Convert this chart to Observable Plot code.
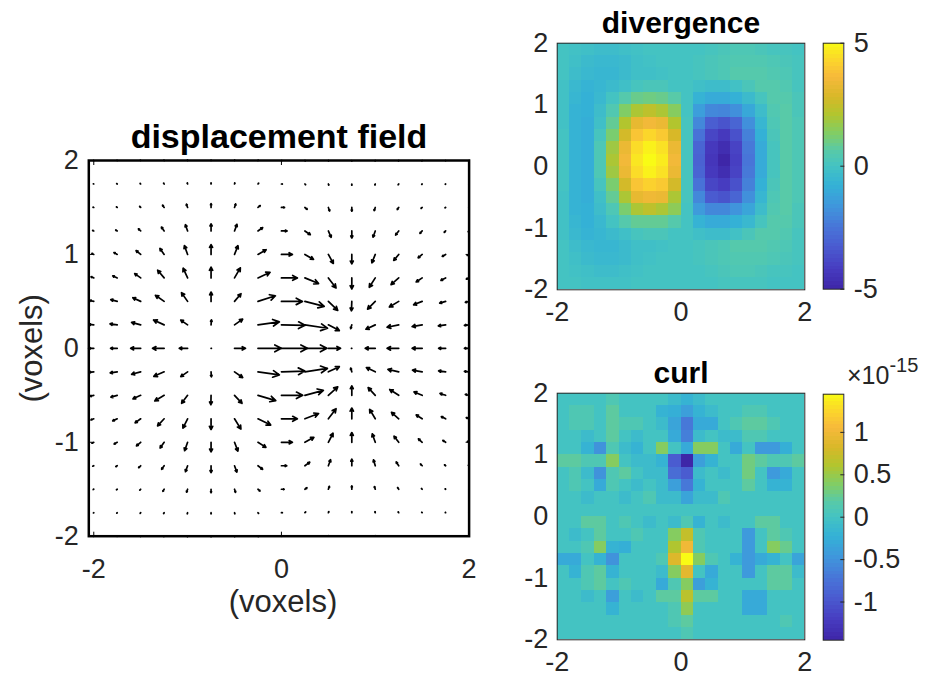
<!DOCTYPE html>
<html><head><meta charset="utf-8">
<script src="https://cdn.jsdelivr.net/npm/d3@7"></script>
<script src="https://cdn.jsdelivr.net/npm/@observablehq/plot@0.6"></script>
<style>
body{margin:0;background:#fff;}
#root{position:relative;width:930px;height:678px;overflow:hidden;background:#fff;font-family:"Liberation Sans",Arial,Helvetica,sans-serif;color:#262626;}
#root svg{position:absolute;overflow:visible;}
.exp{position:absolute;white-space:nowrap;line-height:26px;font-size:25px;color:#262626;}
</style></head><body><div id="root"></div>
<script>
// ---------- quiver (displacement field) ----------
const gridX = [-2,-1.75,-1.5,-1.25,-1,-0.75,-0.5,-0.25,0,0.25,0.5,0.75,1,1.25,1.5,1.75,2];
const gridY = [2,1.75,1.5,1.25,1,0.75,0.5,0.25,0,-0.25,-0.5,-0.75,-1,-1.25,-1.5,-1.75,-2];
const U = [
 [-0.003,-0.003,-0.003,-0.003,-0.002,0,0.002,0.003,0.005,0.004,0.002,0,-0.002,-0.003,-0.003,-0.002,-0.002],
 [-0.005,-0.006,-0.006,-0.006,-0.004,0,0.004,0.007,0.01,0.008,0.005,0,-0.004,-0.006,-0.005,-0.004,-0.003],
 [-0.008,-0.009,-0.011,-0.017,-0.013,0,0.013,0.024,0.033,0.025,0.014,0,-0.012,-0.016,-0.012,-0.007,-0.004],
 [-0.012,-0.016,-0.024,-0.029,-0.024,0,0.026,0.05,0.06,0.058,0.03,0,-0.024,-0.033,-0.024,-0.015,-0.01],
 [-0.02,-0.035,-0.049,-0.045,-0.034,0,0.037,0.087,0.117,0.092,0.053,0,-0.036,-0.053,-0.043,-0.036,-0.02],
 [-0.03,-0.048,-0.064,-0.069,-0.048,0,0.062,0.129,0.17,0.146,0.082,0,-0.064,-0.082,-0.064,-0.05,-0.03],
 [-0.04,-0.069,-0.084,-0.093,-0.065,0,0.069,0.186,0.224,0.206,0.1,-0.004,-0.082,-0.1,-0.092,-0.064,-0.04],
 [-0.05,-0.077,-0.097,-0.113,-0.073,0.004,0.087,0.228,0.252,0.241,0.117,-0.012,-0.1,-0.124,-0.107,-0.078,-0.05],
 [-0.055,-0.071,-0.107,-0.124,-0.089,0.004,0.117,0.249,0.277,0.235,0.13,-0.004,-0.107,-0.124,-0.107,-0.075,-0.05],
 [-0.05,-0.075,-0.097,-0.11,-0.073,0.003,0.087,0.228,0.25,0.24,0.117,-0.012,-0.095,-0.115,-0.103,-0.075,-0.05],
 [-0.04,-0.068,-0.082,-0.1,-0.064,-0.002,0.08,0.19,0.227,0.197,0.1,0,-0.076,-0.096,-0.087,-0.06,-0.04],
 [-0.03,-0.048,-0.06,-0.07,-0.05,0,0.068,0.136,0.17,0.146,0.082,0,-0.06,-0.077,-0.064,-0.046,-0.03],
 [-0.02,-0.033,-0.045,-0.043,-0.032,0,0.036,0.085,0.117,0.096,0.05,0,-0.032,-0.05,-0.04,-0.03,-0.018],
 [-0.011,-0.015,-0.022,-0.027,-0.023,0,0.025,0.05,0.057,0.052,0.024,0,-0.019,-0.027,-0.018,-0.012,-0.008],
 [-0.006,-0.008,-0.01,-0.014,-0.011,0,0.011,0.022,0.029,0.022,0.011,0,-0.009,-0.012,-0.008,-0.005,-0.003],
 [-0.004,-0.005,-0.006,-0.006,-0.004,0,0.004,0.007,0.01,0.008,0.005,0,-0.004,-0.006,-0.005,-0.004,-0.003],
 [-0.003,-0.003,-0.003,-0.003,-0.002,0,0.002,0.003,0.005,0.004,0.002,0,-0.002,-0.003,-0.003,-0.002,-0.002]
];
const V = [
 [0.001,0.002,0.003,0.004,0.005,0.005,0.005,0.004,0,-0.004,-0.005,-0.005,-0.005,-0.004,-0.003,-0.002,-0.001],
 [0.002,0.004,0.006,0.009,0.011,0.012,0.011,0.008,0,-0.008,-0.012,-0.013,-0.011,-0.008,-0.005,-0.003,-0.002],
 [0.003,0.006,0.011,0.024,0.035,0.04,0.037,0.02,0,-0.02,-0.038,-0.04,-0.035,-0.022,-0.01,-0.004,-0.002],
 [0.005,0.01,0.022,0.041,0.066,0.075,0.07,0.036,0,-0.04,-0.068,-0.075,-0.067,-0.043,-0.026,-0.015,-0.008],
 [0.01,0.02,0.041,0.064,0.094,0.105,0.093,0.05,0,-0.053,-0.096,-0.1,-0.089,-0.064,-0.036,-0.021,-0.01],
 [0.012,0.022,0.045,0.082,0.103,0.114,0.107,0.06,0,-0.06,-0.107,-0.117,-0.1,-0.071,-0.043,-0.025,-0.012],
 [0.01,0.018,0.039,0.065,0.093,0.1,0.082,0.06,0,-0.053,-0.096,-0.1,-0.082,-0.06,-0.036,-0.018,-0.01],
 [0.005,0.011,0.026,0.052,0.051,0.053,0.061,0.032,-0.005,-0.036,-0.06,-0.04,-0.046,-0.025,-0.018,-0.011,-0.005],
 [0,0,0,0,0,0,0,0,0,0,0,0,0,0,0,0,0],
 [-0.005,-0.011,-0.026,-0.048,-0.051,-0.053,-0.061,-0.032,0.008,0.036,0.055,0.04,0.045,0.026,0.018,0.011,0.005],
 [-0.01,-0.019,-0.037,-0.06,-0.085,-0.1,-0.085,-0.056,0,0.053,0.09,0.1,0.082,0.062,0.036,0.02,0.01],
 [-0.012,-0.022,-0.043,-0.075,-0.1,-0.114,-0.11,-0.066,0,0.056,0.107,0.115,0.1,0.068,0.041,0.023,0.012],
 [-0.01,-0.019,-0.038,-0.061,-0.09,-0.102,-0.094,-0.054,0,0.053,0.096,0.104,0.089,0.064,0.036,0.02,0.009],
 [-0.005,-0.009,-0.02,-0.038,-0.063,-0.073,-0.068,-0.038,0,0.038,0.064,0.07,0.062,0.04,0.019,0.01,0.005],
 [-0.003,-0.006,-0.01,-0.022,-0.032,-0.037,-0.033,-0.019,0,0.016,0.03,0.035,0.029,0.018,0.008,0.004,0.002],
 [-0.002,-0.004,-0.006,-0.009,-0.011,-0.012,-0.011,-0.008,0,0.008,0.012,0.012,0.011,0.008,0.005,0.003,0.002],
 [-0.001,-0.002,-0.003,-0.004,-0.005,-0.005,-0.005,-0.004,0,0.004,0.005,0.005,0.005,0.004,0.003,0.002,0.001]
];
const quiverXTicks = [-2, 0, 2];
const quiverYTicks = [-2, -1, 0, 1, 2];

// ---------- heatmaps (20 x 20 cells, rows listed top to bottom) ----------
const cellEdges = [-2,-1.8,-1.6,-1.4,-1.2,-1,-0.8,-0.6,-0.4,-0.2,0,0.2,0.4,0.6,0.8,1,1.2,1.4,1.6,1.8,2];
const divergence = [
 [0.0,-0.1,-0.2,-0.3,-0.3,-0.2,-0.1,0.0,0.0,0.0,0.0,0.0,0.1,0.2,0.3,0.3,0.2,0.1,0.1,0.0],
 [0.0,-0.2,-0.4,-0.5,-0.5,-0.4,-0.2,-0.1,0.0,0.0,0.0,0.1,0.2,0.3,0.4,0.4,0.4,0.3,0.2,0.1],
 [0.0,-0.3,-0.5,-0.6,-0.6,-0.4,-0.2,-0.2,-0.1,0.0,0.0,0.1,0.2,0.3,0.5,0.5,0.5,0.4,0.3,0.1],
 [-0.1,-0.5,-0.7,-0.6,-0.4,-0.2,0.1,0.2,0.2,0.0,0.0,-0.2,-0.3,-0.3,-0.1,0.2,0.5,0.5,0.4,0.1],
 [-0.1,-0.6,-0.8,-0.5,0.0,0.5,0.9,1.0,0.9,0.6,0.0,-0.7,-1.0,-1.0,-0.8,-0.4,0.1,0.5,0.5,0.2],
 [-0.1,-0.7,-0.8,-0.3,0.4,1.3,2.0,2.3,2.0,1.4,0.0,-1.4,-2.0,-2.1,-1.8,-1.1,-0.3,0.4,0.6,0.2],
 [-0.1,-0.7,-0.9,-0.2,0.8,2.1,3.2,3.5,3.3,2.1,0.1,-2.0,-3.2,-3.5,-3.0,-1.8,-0.6,0.3,0.6,0.3],
 [0.0,-0.7,-0.9,0.1,1.2,2.7,3.9,4.3,4.0,2.8,0.1,-2.6,-3.9,-4.3,-3.6,-2.2,-0.8,0.2,0.6,0.3],
 [0.0,-0.7,-0.9,0.3,1.8,3.3,4.4,4.8,4.5,3.3,0.1,-3.0,-4.3,-4.7,-4.0,-2.4,-1.0,0.1,0.6,0.3],
 [0.0,-0.7,-0.9,0.3,2.0,3.5,4.6,5.0,4.7,3.5,0.1,-3.1,-4.4,-5.0,-4.1,-2.5,-1.0,0.1,0.6,0.3],
 [0.0,-0.7,-0.9,0.3,1.8,3.3,4.4,4.8,4.5,3.3,0.1,-3.0,-4.3,-4.7,-4.0,-2.4,-1.0,0.1,0.6,0.3],
 [0.0,-0.7,-0.9,0.1,1.2,2.7,3.9,4.2,4.0,2.7,0.1,-2.6,-3.9,-4.2,-3.6,-2.2,-0.8,0.2,0.6,0.3],
 [-0.1,-0.7,-0.9,-0.2,0.8,2.0,3.2,3.4,3.3,2.0,0.1,-2.0,-3.3,-3.5,-3.0,-1.8,-0.6,0.3,0.6,0.3],
 [-0.1,-0.7,-0.8,-0.3,0.3,1.2,2.0,2.3,2.0,1.5,0.0,-1.5,-2.0,-2.0,-1.7,-1.2,-0.3,0.4,0.6,0.2],
 [-0.1,-0.6,-0.8,-0.5,0.0,0.5,0.8,0.8,0.8,0.5,0.0,-0.7,-1.0,-1.0,-0.8,-0.5,0.1,0.5,0.5,0.2],
 [-0.1,-0.5,-0.7,-0.6,-0.4,-0.2,0.1,0.2,0.2,0.0,0.0,-0.2,-0.3,-0.3,-0.1,0.2,0.5,0.5,0.4,0.1],
 [0.0,-0.3,-0.5,-0.6,-0.6,-0.4,-0.2,-0.2,-0.1,0.0,0.0,0.1,0.2,0.3,0.5,0.5,0.5,0.4,0.3,0.1],
 [0.0,-0.2,-0.4,-0.5,-0.5,-0.4,-0.2,-0.1,0.0,0.0,0.0,0.1,0.2,0.3,0.4,0.4,0.4,0.3,0.2,0.1],
 [0.0,-0.1,-0.2,-0.3,-0.3,-0.2,-0.1,0.0,0.0,0.0,0.0,0.0,0.1,0.2,0.3,0.3,0.2,0.1,0.1,0.0],
 [0.0,0.0,-0.1,-0.1,-0.1,-0.1,0.0,0.0,0.0,0.0,0.0,0.0,0.0,0.1,0.1,0.1,0.1,0.0,0.0,0.0]
];
// curl values in units of 1e-15
const curl = [
 [0,0,0,0,0.1,0,0,0,0,-0.1,-0.2,-0.1,0,0,0,0,0,0,0,0],
 [0,0.1,0.1,0,0.2,0,0,0,-0.2,-0.25,-0.4,-0.2,-0.1,0,0,0.1,0.1,0,0,0],
 [0,0.1,0.1,0,0.2,0.1,0.1,0,-0.1,-0.35,-0.7,-0.3,-0.3,0,0.1,0.2,0.2,0.1,0,0],
 [0,0,-0.1,0,0.2,0,-0.1,0,0,-0.3,-0.65,-0.1,0,-0.1,-0.1,0.1,0.1,0,0,0],
 [0,0,-0.2,-0.5,0.1,-0.1,-0.2,0,0.4,0,-0.3,0.4,0.4,0,-0.3,0,-0.45,-0.45,-0.25,0],
 [0.2,0.2,0.1,0.1,0.4,0,-0.1,-0.1,-0.2,-0.95,-1.45,-0.4,-0.2,0,0,0.3,0.2,0.1,0.1,0.2],
 [0,0.1,-0.1,-0.5,0.1,0.2,0,-0.1,-0.1,-0.8,-0.95,-0.1,0,-0.1,0,0.3,0,-0.45,-0.3,0],
 [0,0.1,0,-0.3,0.1,0,-0.1,0,-0.1,-0.4,-0.7,-0.2,0,0,0,0.2,0,-0.2,-0.2,0],
 [0,0,-0.1,0,0,-0.1,0,0.1,-0.1,-0.1,-0.35,-0.1,-0.1,0.1,0,0,0,0,0,0],
 [0,0,0,0,0,0,0,0,0,0,0,0,0,0,0,0,0,0,0,0],
 [0,0,0.2,0.2,0,0.1,0,-0.1,0,-0.1,0.1,-0.2,0,-0.1,0,0,0.2,0.2,0,0],
 [0,-0.1,0,0.2,0,0,0.1,0,0,0.4,0.7,0.1,0,0,0,-0.45,0,0.2,0.1,0],
 [0,0,0.1,0.4,-0.2,-0.25,0,0,0,0.6,1.0,0.1,0,0,0,-0.45,0,0.4,0.25,0],
 [-0.3,-0.3,0,-0.2,-0.5,0,0,0,0.1,0.85,1.45,0.4,0.1,0,-0.2,-0.45,-0.3,-0.2,0,-0.35],
 [0,-0.2,0.1,0.2,-0.2,0,0,0,-0.1,0.4,0.9,0,-0.3,0,0,-0.45,0,0.2,0.2,-0.1],
 [0,0,0.1,0.2,0,0.1,0,0,-0.3,0.1,0.4,-0.4,-0.2,0,0,0,0,0.2,0.2,0],
 [0,0,-0.1,0,-0.4,0,-0.1,0,0.2,0.2,0.65,0.2,0.2,0,0,-0.3,-0.3,0,0,0],
 [0,0,0,0,-0.2,0,0,0,0,0.1,0.45,0,0,0,0,-0.3,-0.3,0,0,0],
 [0,0,0,0,0,0,0,0,0,0.1,0.2,0,0,0,0,0,0,0,0.1,0],
 [0,0,0,0,0,0,0,0,0,0,0.1,0,0,0,0,0,0,0,0,0]
];
const heatTicks = [-2, 0, 2];
const heatYTicks = [-2, -1, 0, 1, 2];
const divDomain = [-5, 5];
const divTicks = [-5, 0, 5];
const curlDomain = [-1.45, 1.45];
const curlTicks = [-1, -0.5, 0, 0.5, 1];

// parula-like colormap
const parulaStops = [0, 0.08, 0.17, 0.25, 0.34, 0.42, 0.5, 0.56, 0.63, 0.71, 0.78, 0.86, 0.92, 1];
const parulaColors = ["#3e26a8","#473cc0","#4a5bd0","#4875d8","#3f98dc","#34b1d6","#44c3c2",
  "#58caa8","#80cd66","#b2c52e","#d8b828","#f6b93b","#fbd12e","#f9fb15"];
const parulaScale = d3.scaleLinear().domain(parulaStops).range(parulaColors).interpolate(d3.interpolateRgb).clamp(true);
const parulaInterp = t => parulaScale(t);

// ---------- rendering ----------
const root = document.getElementById("root");
const FONT = "'Liberation Sans', Arial, Helvetica, sans-serif";
const AX = "#262626";
const fmt = d => String(d);
function place(svg, left, top) { svg.style.left = left + "px"; svg.style.top = top + "px"; root.appendChild(svg); }
function inward(xt, yt, size) {
  return [
    Plot.axisX({anchor: "bottom", ticks: xt, tickSize: size, dy: -size, fill: "none", stroke: "#000", label: null}),
    Plot.axisX({anchor: "top", ticks: xt, tickSize: size, dy: size, fill: "none", stroke: "#000", label: null}),
    Plot.axisY({anchor: "left", ticks: yt, tickSize: size, dx: size, fill: "none", stroke: "#000", label: null}),
    Plot.axisY({anchor: "right", ticks: yt, tickSize: size, dx: -size, fill: "none", stroke: "#000", label: null})
  ];
}

const quiverData = [];
gridY.forEach((y, j) => gridX.forEach((x, i) => quiverData.push({x, y, u: U[j][i], v: V[j][i]})));

const quiver = Plot.plot({
  width: 480, height: 500,
  marginLeft: 88.3, marginRight: 11.4, marginTop: 40, marginBottom: 84.3,
  x: {domain: [-2.053, 2]},
  y: {domain: [-2, 2]},
  style: {fontFamily: FONT, color: AX, background: "transparent", overflow: "visible"},
  marks: [
    Plot.arrow(quiverData, {x1: "x", y1: "y", x2: d => d.x + d.u, y2: d => d.y + d.v,
      stroke: "#000", strokeWidth: 1.7, strokeLinecap: "round", headLength: 6.5, headAngle: 55}),
    Plot.frame({stroke: "#000", strokeWidth: 2.5}),
    ...inward(quiverXTicks, quiverYTicks, 4),
    Plot.axisX({anchor: "bottom", ticks: quiverXTicks, tickSize: 0, tickPadding: 23, fontSize: 27, tickFormat: fmt, label: null, fill: AX}),
    Plot.axisY({anchor: "left", ticks: quiverYTicks, tickSize: 0, tickPadding: 10, fontSize: 27, tickFormat: fmt, label: null, fill: AX}),
    Plot.text(["(voxels)"], {text: d => d, frameAnchor: "bottom", dx: 4, dy: 66, textAnchor: "middle", lineAnchor: "middle", fontSize: 31, fill: AX}),
    Plot.text(["(voxels)"], {text: d => d, frameAnchor: "left", dx: -57, rotate: -90, textAnchor: "middle", lineAnchor: "middle", fontSize: 31, fill: AX}),
    Plot.text(["displacement field"], {text: d => d, frameAnchor: "top", dy: -13, textAnchor: "middle", lineAnchor: "bottom", fontSize: 34, fontWeight: "bold", fill: "#000"})
  ]
});
place(quiver, 0, 120);

function cellsOf(vals) {
  const out = [];
  vals.forEach((row, r) => row.forEach((v, c) => out.push({
    x1: cellEdges[c], x2: cellEdges[c + 1], y1: cellEdges[19 - r], y2: cellEdges[20 - r], v
  })));
  return out;
}

function heatmap(vals, title, domain) {
  return Plot.plot({
    width: 320, height: 334,
    marginLeft: 66.7, marginRight: 5.7, marginTop: 42.7, marginBottom: 44.7,
    x: {domain: [-2, 2]}, y: {domain: [-2, 2]},
    color: {type: "linear", domain, interpolate: parulaInterp},
    style: {fontFamily: FONT, color: AX, background: "transparent", overflow: "visible"},
    marks: [
      Plot.rect(cellsOf(vals), {x1: "x1", x2: "x2", y1: "y1", y2: "y2", fill: "v", shapeRendering: "crispEdges"}),
      Plot.frame({stroke: AX, strokeWidth: 1}),
      Plot.axisX({anchor: "bottom", ticks: heatTicks, tickSize: 0, tickPadding: 12, fontSize: 27, tickFormat: fmt, label: null, fill: AX}),
      Plot.axisY({anchor: "left", ticks: heatYTicks, tickSize: 0, tickPadding: 9, fontSize: 27, tickFormat: fmt, label: null, fill: AX}),
      Plot.text([title], {text: d => d, frameAnchor: "top", dy: -10, textAnchor: "middle", lineAnchor: "bottom", fontSize: 30, fontWeight: "bold", fill: "#000"})
    ]
  });
}

function colorbar(domain, ticks, h) {
  const n = 64;
  const slices = d3.range(n).map(i => {
    const lo = domain[0] + (domain[1] - domain[0]) * i / n;
    const hi = domain[0] + (domain[1] - domain[0]) * (i + 1) / n;
    return {lo, hi, mid: (lo + hi) / 2};
  });
  return Plot.plot({
    width: 100, height: h,
    marginLeft: 12.7, marginRight: 66.7, marginTop: 42.7, marginBottom: h - 42.7 - 246,
    x: {domain: [0, 1], axis: null},
    y: {domain},
    color: {type: "linear", domain, interpolate: parulaInterp},
    style: {fontFamily: FONT, color: AX, background: "transparent", overflow: "visible"},
    marks: [
      Plot.rect(slices, {x1: 0, x2: 1, y1: "lo", y2: "hi", fill: "mid", shapeRendering: "crispEdges"}),
      Plot.frame({stroke: AX, strokeWidth: 1}),
      Plot.axisY({anchor: "right", ticks, tickSize: 4, dx: -4, fill: "none", stroke: AX, label: null}),
      Plot.axisY({anchor: "right", ticks, tickSize: 0, tickPadding: 10, fontSize: 27, tickFormat: fmt, label: null, fill: AX})
    ]
  });
}

place(heatmap(divergence, "divergence", divDomain), 490, 0);
place(colorbar(divDomain, divTicks, 334), 810, 0);
place(heatmap(curl, "curl", curlDomain), 490, 350);
place(colorbar(curlDomain, curlTicks, 334), 810, 350.6);

const exp = document.createElement("div");
exp.className = "exp";
exp.style.left = "847px";
exp.style.top = "362px";
exp.innerHTML = "×10<span style=\"position:relative;top:-12px;font-size:20px\">-15</span>";
root.appendChild(exp);
</script></body></html>
